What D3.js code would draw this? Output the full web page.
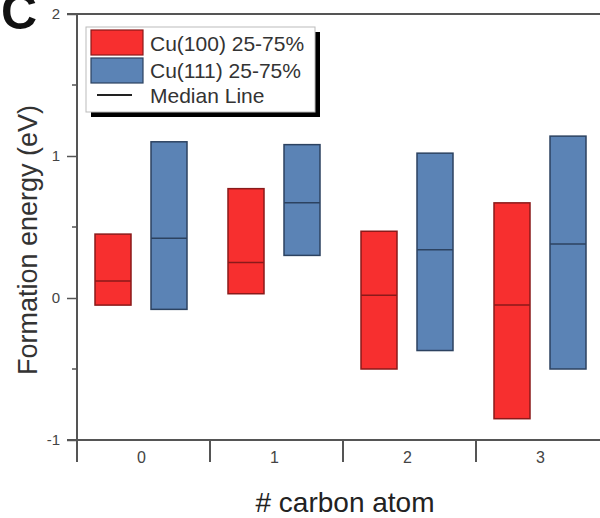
<!DOCTYPE html>
<html>
<head>
<meta charset="utf-8">
<script src="https://d3js.org/d3.v7.min.js"></script>
<style>
body { margin: 0; background: #fff; }
svg { font-family: Arial, "Liberation Sans", sans-serif; }
</style>
</head>
<body>
<svg id="chart" width="600" height="518"></svg>
<script>
var categories = ["0", "1", "2", "3"];
var seriesNames = ["Cu(100) 25-75%", "Cu(111) 25-75%"];
var q1_100 = [-0.05, 0.03, -0.50, -0.85];
var med_100 = [0.12, 0.25, 0.02, -0.05];
var q3_100 = [0.45, 0.77, 0.47, 0.67];
var q1_111 = [-0.08, 0.30, -0.37, -0.50];
var med_111 = [0.42, 0.67, 0.34, 0.38];
var q3_111 = [1.10, 1.08, 1.02, 1.14];
var yTicks = [-1, 0, 1, 2];

var colors = ["#f72f2f", "#5b83b5"];
var strokes = ["#8a1a1a", "#2c4260"];

var svg = d3.select("#chart");
var plotLeft = 77, plotTop = 14, plotBottom = 440;

var x = d3.scaleBand().domain(categories).range([plotLeft, plotLeft + 133 * 4]).padding(0);
var y = d3.scaleLinear().domain([-1, 2]).range([plotBottom, plotTop]);

// boxes
var boxes = [];
categories.forEach(function(c, i){
    boxes.push({cat: c, s: 0, q1: q1_100[i], med: med_100[i], q3: q3_100[i]});
    boxes.push({cat: c, s: 1, q1: q1_111[i], med: med_111[i], q3: q3_111[i]});
});
var boxOffset = [18, 74], boxW = 36;

var g = svg.append("g");
g.selectAll("rect.box")
    .data(boxes)
    .enter()
    .append("rect")
    .attr("class", "box")
    .attr("x", function(d){return x(d.cat) + boxOffset[d.s]})
    .attr("y", function(d){return y(d.q3)})
    .attr("width", boxW)
    .attr("height", function(d){return y(d.q1) - y(d.q3)})
    .attr("fill", function(d){return colors[d.s]})
    .attr("stroke", function(d){return strokes[d.s]})
    .attr("stroke-width", 1.5);
g.selectAll("line.med")
    .data(boxes)
    .enter()
    .append("line")
    .attr("x1", function(d){return x(d.cat) + boxOffset[d.s]})
    .attr("x2", function(d){return x(d.cat) + boxOffset[d.s] + boxW})
    .attr("y1", function(d){return y(d.med)})
    .attr("y2", function(d){return y(d.med)})
    .attr("stroke", function(d){return strokes[d.s]})
    .attr("stroke-width", 1.5);

// axes
var axisColor = "#555";
var yAxis = d3.axisLeft(y).tickValues(yTicks).tickSize(10).tickPadding(7).tickFormat(function(d){return String(d)});
var yg = svg.append("g").attr("transform", "translate(" + plotLeft + ",0)").call(yAxis);
yg.attr("font-size", 15).attr("font-family", "Arial, 'Liberation Sans', sans-serif");
yg.select(".domain").remove();
yg.selectAll(".tick line").attr("stroke", axisColor).attr("stroke-width", 1.5);
yg.selectAll(".tick text").attr("fill", "#444");
// minor ticks
svg.selectAll("line.minor")
    .data([-0.5, 0.5, 1.5])
    .enter()
    .append("line")
    .attr("x1", plotLeft - 5).attr("x2", plotLeft)
    .attr("y1", function(d){return y(d)}).attr("y2", function(d){return y(d)})
    .attr("stroke", axisColor).attr("stroke-width", 1.5);

svg.append("line").attr("x1", plotLeft).attr("x2", plotLeft).attr("y1", plotTop).attr("y2", plotBottom + 22)
    .attr("stroke", axisColor).attr("stroke-width", 2);
svg.append("line").attr("x1", plotLeft - 10).attr("x2", 600).attr("y1", plotBottom).attr("y2", plotBottom)
    .attr("stroke", axisColor).attr("stroke-width", 2);
svg.append("line").attr("x1", plotLeft - 10).attr("x2", 600).attr("y1", plotTop).attr("y2", plotTop)
    .attr("stroke", axisColor).attr("stroke-width", 2);

// x category separators and labels
svg.selectAll("line.sep")
    .data(categories.slice(1))
    .enter()
    .append("line")
    .attr("x1", function(d){return x(d)}).attr("x2", function(d){return x(d)})
    .attr("y1", plotBottom).attr("y2", plotBottom + 22)
    .attr("stroke", axisColor).attr("stroke-width", 2);
svg.selectAll("text.xlab")
    .data(categories)
    .enter()
    .append("text")
    .attr("x", function(d){return x(d) + x.bandwidth() / 2 - 2})
    .attr("y", plotBottom + 23)
    .attr("text-anchor", "middle")
    .attr("fill", "#444")
    .style("font-size", "16px")
    .text(function(d){return d});

// axis titles
svg.append("text")
    .attr("transform", "translate(37,240) rotate(-90)")
    .attr("text-anchor", "middle")
    .attr("fill", "#333")
    .style("font-size", "27px")
    .text("Formation energy (eV)");
svg.append("text")
    .attr("x", 345).attr("y", 512)
    .attr("text-anchor", "middle")
    .attr("fill", "#222")
    .style("font-size", "28px")
    .text("# carbon atom");
svg.append("text")
    .attr("x", 1).attr("y", 29)
    .attr("fill", "#111")
    .style("font-size", "50px")
    .style("font-weight", "bold")
    .text("C");

// legend
var lg = svg.append("g").attr("transform", "translate(86,27)");
lg.append("rect").attr("x", 5).attr("y", 5).attr("width", 229).attr("height", 85).attr("fill", "#000");
lg.append("rect").attr("x", 0).attr("y", 0).attr("width", 229).attr("height", 85)
    .attr("fill", "#fff").attr("stroke", "#bbb").attr("stroke-width", 1);
seriesNames.forEach(function(n, i){
    lg.append("rect").attr("x", 5).attr("y", 3 + i * 28).attr("width", 52).attr("height", 25)
        .attr("fill", colors[i]).attr("stroke", strokes[i]).attr("stroke-width", 1.2);
    lg.append("text").attr("x", 64).attr("y", 24 + i * 27).attr("fill", "#333")
        .style("font-size", "21px").text(n);
});
lg.append("line").attr("x1", 11).attr("x2", 46).attr("y1", 68).attr("y2", 68)
    .attr("stroke", "#222").attr("stroke-width", 2);
lg.append("text").attr("x", 64).attr("y", 76).attr("fill", "#333")
    .style("font-size", "21px").text("Median Line");
</script>
</body>
</html>
